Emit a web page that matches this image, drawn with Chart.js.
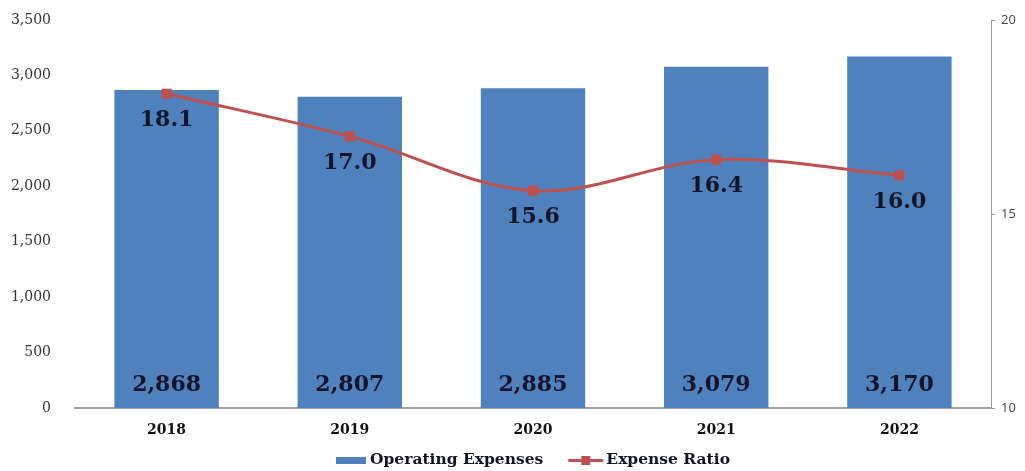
<!DOCTYPE html>
<html>
<head>
<meta charset="utf-8">
<script src="https://cdn.jsdelivr.net/npm/chart.js@4"></script>
<style>
  body { margin: 0; background: #fff; }
  #wrap { width: 1025px; height: 471px; }
</style>
</head>
<body>
<div id="wrap"><canvas id="myChart" width="1025" height="471"></canvas></div>
<script>
const years = ['2018', '2019', '2020', '2021', '2022'];
const expenses = [2868, 2807, 2885, 3079, 3170];
const ratios = [18.1, 17.0, 15.6, 16.4, 16.0];
const expenseTicks = [0, 500, 1000, 1500, 2000, 2500, 3000, 3500];
const ratioTicks = [10, 15, 20];

const BLUE = '#4f81bd';
const RED = '#c0504d';
const SERIF = '"DejaVu Serif", "Liberation Serif", serif';

const valueLabels = {
  id: 'valueLabels',
  afterDatasetsDraw(chart) {
    const ctx = chart.ctx;
    ctx.save();
    ctx.font = 'bold 22px ' + SERIF;
    ctx.fillStyle = '#141428';
    ctx.textAlign = 'center';
    ctx.textBaseline = 'middle';
    const bars = chart.getDatasetMeta(1).data;
    bars.forEach((b, i) => {
      ctx.fillText(expenses[i].toLocaleString('en-US'), b.x, b.base - 23);
    });
    const pts = chart.getDatasetMeta(0).data;
    pts.forEach((p, i) => {
      ctx.fillText(ratios[i].toFixed(1), p.x, p.y + 27);
    });
    ctx.restore();
  }
};

// legend under the axis, drawn by hand so it sits where the original one does
const bottomLegend = {
  id: 'bottomLegend',
  afterDraw(chart) {
    const ctx = chart.ctx;
    const area = chart.chartArea;
    ctx.save();
    ctx.font = 'bold 15.5px ' + SERIF;
    ctx.textBaseline = 'middle';
    const t1 = chart.data.datasets[1].label;
    const t2 = chart.data.datasets[0].label;
    const w1 = ctx.measureText(t1).width;
    const w2 = ctx.measureText(t2).width;
    const total = 30 + 4 + w1 + 25 + 35 + 3 + w2;
    let x = (area.left + area.right) / 2 - total / 2;
    const y = 460;
    ctx.fillStyle = BLUE;
    ctx.fillRect(x, y - 3, 30, 7);
    x += 34;
    ctx.fillStyle = '#141428';
    ctx.fillText(t1, x, y);
    x += w1 + 25;
    ctx.fillStyle = RED;
    ctx.fillRect(x, y - 1, 35, 3);
    ctx.fillRect(x + 13, y - 4, 9, 9);
    x += 38;
    ctx.fillStyle = '#141428';
    ctx.fillText(t2, x, y);
    ctx.restore();
  }
};

new Chart(document.getElementById('myChart'), {
  data: {
    labels: years,
    datasets: [{
      type: 'line',
      label: 'Expense Ratio',
      data: ratios,
      yAxisID: 'y1',
      borderColor: RED,
      backgroundColor: RED,
      borderWidth: 3,
      tension: 0.35,
      pointStyle: 'rect',
      pointRadius: 5,
      pointBackgroundColor: RED,
      pointBorderColor: RED,
      order: 0
    }, {
      type: 'bar',
      label: 'Operating Expenses',
      data: expenses,
      yAxisID: 'y',
      backgroundColor: BLUE,
      categoryPercentage: 1,
      barPercentage: 0.57,
      order: 1
    }]
  },
  options: {
    responsive: false,
    animation: false,
    layout: { padding: { top: 20, bottom: 0 } },
    plugins: {
      tooltip: { enabled: false },
      legend: { display: false }
    },
    scales: {
      x: {
        grid: { display: false },
        border: { display: true, color: '#a0a0a0', width: 2 },
        ticks: { color: '#111', font: { family: SERIF, size: 14, weight: 'bold' }, padding: 6 },
        afterFit: (s) => { s.height = 63; }
      },
      y: {
        position: 'left',
        min: 0,
        max: 3500,
        afterBuildTicks: (s) => { s.ticks = expenseTicks.map(v => ({ value: v })); },
        grid: { display: false },
        border: { display: false },
        ticks: {
          color: '#333',
          font: { family: SERIF, size: 14 },
          padding: 16,
          callback: (v) => v.toLocaleString('en-US')
        },
        afterFit: (s) => { s.width = 75; s.paddingTop = 0; }
      },
      y1: {
        position: 'right',
        min: 10,
        max: 20,
        afterBuildTicks: (s) => { s.ticks = ratioTicks.map(v => ({ value: v })); },
        grid: { display: true, drawOnChartArea: false, color: '#999', tickLength: 4 },
        border: { display: true, color: '#999' },
        ticks: { color: '#444', font: { family: '"Open Sans", sans-serif', size: 13 }, padding: 6 },
        afterFit: (s) => { s.width = 34; s.paddingTop = 0; }
      }
    }
  },
  plugins: [valueLabels, bottomLegend]
});
</script>
</body>
</html>
